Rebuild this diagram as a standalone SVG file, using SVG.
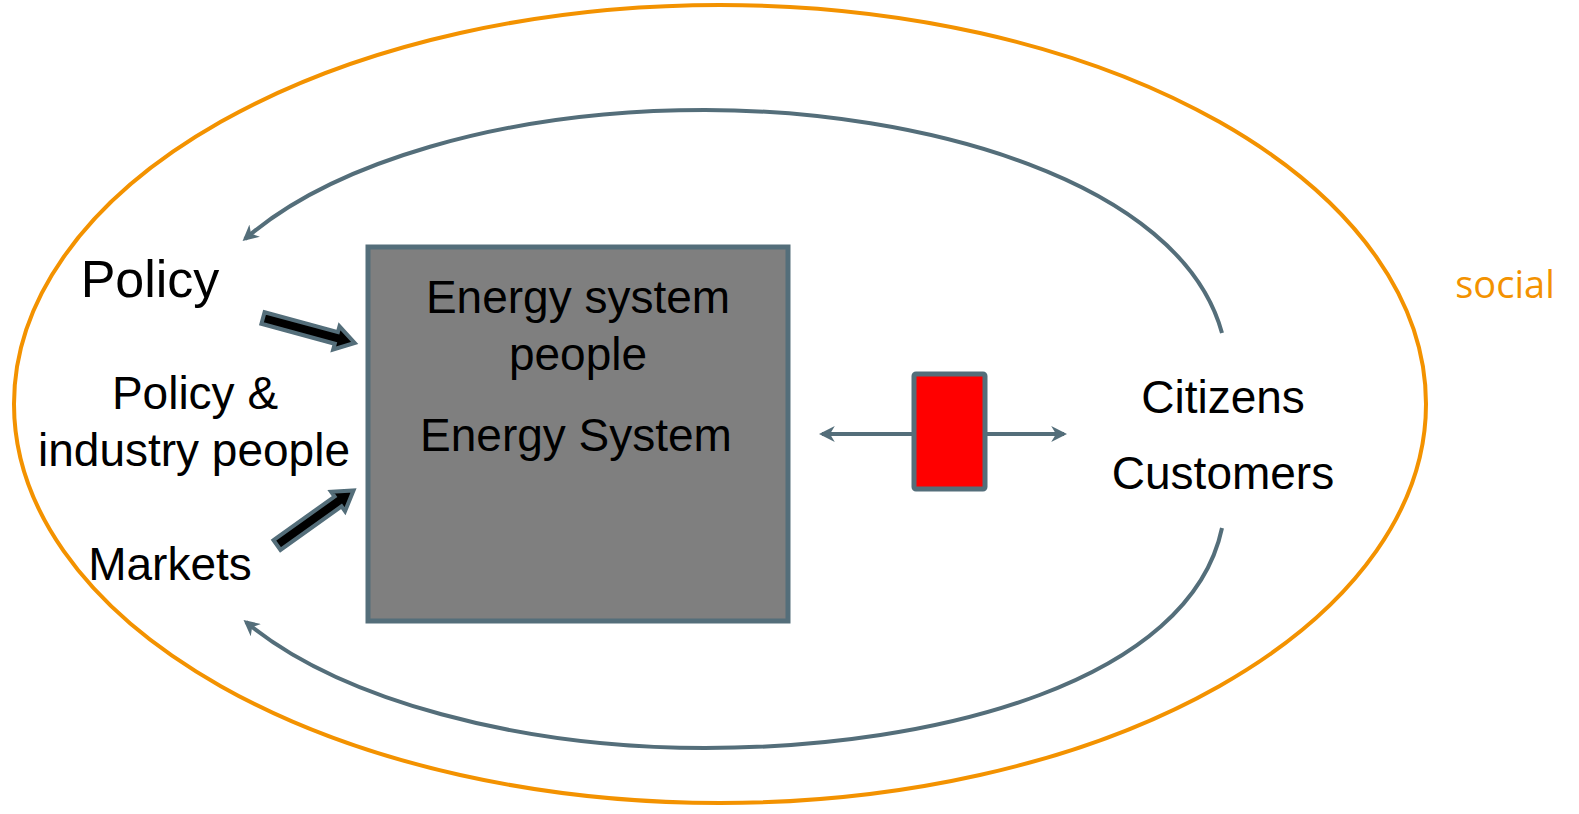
<svg xmlns="http://www.w3.org/2000/svg" width="1579" height="814" viewBox="0 0 1579 814">
<defs>
<style>
.t{font-family:"Liberation Sans",Arial,sans-serif;font-size:46px;fill:#000;text-anchor:middle}
.curve{fill:none;stroke:#546E7A;stroke-width:4}
.fat{fill:#000;stroke:#546E7A;stroke-width:4;stroke-linejoin:miter}
</style>
<marker id="ah" viewBox="0 0 10 10" refX="8" refY="5" markerWidth="4" markerHeight="4" orient="auto-start-reverse" markerUnits="strokeWidth">
<path d="M0,0 L10,5 L0,10 L3,5 Z" fill="#546E7A"/>
</marker>
</defs>
<rect width="1579" height="814" fill="#fff"/>
<g id="social">
<ellipse cx="720" cy="404" rx="706" ry="399" fill="none" stroke="#F39200" stroke-width="4"/>
<text x="1505" y="298" font-family="'Open Sans','Liberation Sans',sans-serif" font-size="38" fill="#F39200" text-anchor="middle">social</text>
</g>
<g id="energy-system">
<rect x="368" y="247" width="420" height="374" fill="#7F7F7F" stroke="#546E7A" stroke-width="5"/>
<text class="t" x="578" y="313">Energy system</text>
<text class="t" x="578" y="370">people</text>
<text class="t" x="576" y="451">Energy System</text>
</g>
<g id="policy"><text class="t" x="150" y="297" style="font-size:52px">Policy</text></g>
<g id="policy-industry">
<text class="t" x="195" y="409">Policy &amp;</text>
<text class="t" x="194" y="466">industry people</text>
</g>
<g id="markets"><text class="t" x="170" y="580">Markets</text></g>
<g id="citizens">
<text class="t" x="1223" y="413">Citizens</text>
<text class="t" x="1223" y="489">Customers</text>
</g>
<g id="connectors">
<path class="curve" d="M1222,333 C1180,180 920,110 705,110 C500,110 330,165 245,239" marker-end="url(#ah)"/>
<path class="curve" d="M1222,528 C1190,680 940,748 705,748 C520,748 340,700 246,622" marker-end="url(#ah)"/>
<line class="curve" x1="822" y1="434" x2="1064" y2="434" marker-start="url(#ah)" marker-end="url(#ah)"/>
<polygon class="fat" transform="translate(263,318) rotate(15.2)" points="0,-6 76,-6 76,-12 95,0 76,12 76,6 0,6"/>
<polygon class="fat" transform="translate(277,545) rotate(-35.5)" points="0,-6 75,-6 75,-12 94,0 75,12 75,6 0,6"/>
</g>
<g id="gate">
<rect x="914" y="374" width="71" height="115" fill="#FF0000" stroke="#546E7A" stroke-width="5" rx="2"/>
</g>
</svg>
